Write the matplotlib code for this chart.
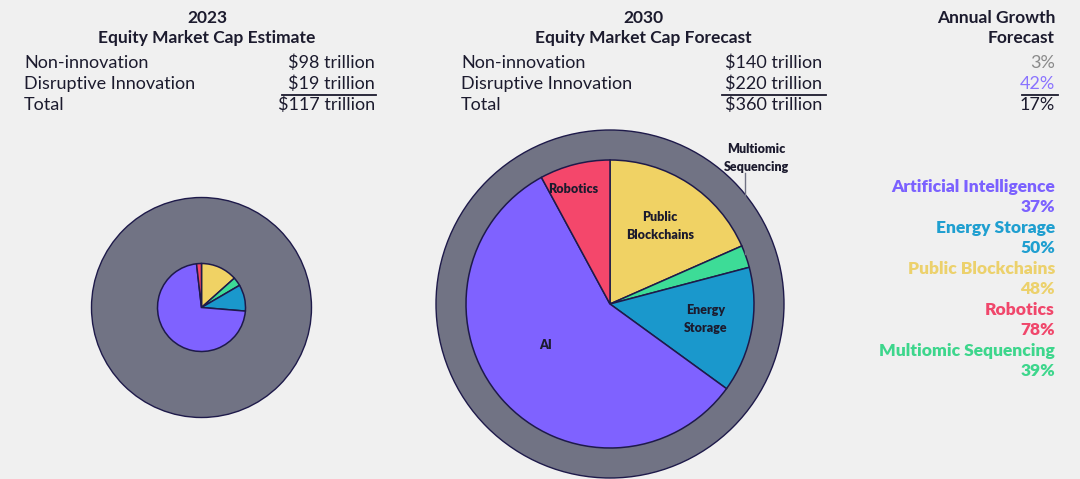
import matplotlib.pyplot as plt
from matplotlib.patches import Circle

plt.rcParams['font.family'] = ['Lato', 'DejaVu Sans']

# Veriler
yil_2023 = ['Non-innovation', 'Disruptive Innovation', 'Total']
deger_2023 = ['$98 trillion', '$19 trillion', '$117 trillion']
deger_2030 = ['$140 trillion', '$220 trillion', '$360 trillion']
buyume = ['3%', '42%', '17%']

# pasta dilimleri (saat yönünde, tepeden başlayarak), pay yüzdesi
dilimler = ['Public Blockchains', 'Multiomic Sequencing', 'Energy Storage', 'AI', 'Robotics']
pay_2023 = [13.4, 3.2, 9.7, 71.9, 1.8]
pay_2030 = [18.4, 2.5, 14.1, 57.1, 7.9]

lejant = ['Artificial Intelligence', 'Energy Storage', 'Public Blockchains', 'Robotics', 'Multiomic Sequencing']
lejant_buyume = ['37%', '50%', '48%', '78%', '39%']

renkler = {'AI': '#7f62ff', 'Energy Storage': '#1a98cc', 'Public Blockchains': '#f0d264',
           'Robotics': '#f4476b', 'Multiomic Sequencing': '#3ddc97'}
lejant_renk = ['#7b61ff', '#1f9fd0', '#ecd16c', '#f0476b', '#3dd68c']

ARKA = '#f0f0f0'
YAZI = '#1c1b2e'
GRI = '#717384'
KENAR = '#1e1a4a'

W, H = 1080, 479
fig = plt.figure(figsize=(W / 100, H / 100), dpi=100, facecolor=ARKA)
ax = fig.add_axes([0, 0, 1, 1])
ax.set_facecolor(ARKA)


def y(py):
    return H - py


# Pastalar
def pasta(merkez, r_dis, r_ic, paylar):
    ax.add_patch(Circle(merkez, r_dis, facecolor=GRI, edgecolor=KENAR, linewidth=1.0, zorder=1))
    ax.pie(paylar, colors=[renkler[d] for d in dilimler], startangle=90, counterclock=False,
           center=merkez, radius=r_ic, frame=True,
           wedgeprops=dict(edgecolor=KENAR, linewidth=1.1, zorder=2))


pasta((201.5, y(307.5)), 110, 44, pay_2023)
pasta((610, y(304)), 174, 144, pay_2030)

# Dilim etiketleri
etiket = dict(fontsize=9, fontweight='heavy', color=YAZI, ha='center', va='center', zorder=5)
ax.text(573, y(189), 'Robotics', **etiket)
ax.text(660, y(226), 'Public\nBlockchains', linespacing=1.6, **etiket)
ax.text(706, y(319), 'Energy\nStorage', linespacing=1.6, **etiket)
ax.text(546, y(345), 'AI', **etiket)
ax.text(756, y(158), 'Multiomic\nSequencing', linespacing=1.6, **etiket)
ax.plot([745, 745], [y(173), y(254)], color=GRI, linewidth=1, zorder=5)

# Başlıklar
baslik = dict(fontsize=12.5, fontweight='bold', color=YAZI, va='center')
ax.text(207, y(18), '2023', ha='center', **baslik)
ax.text(207, y(38), 'Equity Market Cap Estimate', ha='center', **baslik)
ax.text(643, y(18), '2030', ha='center', **baslik)
ax.text(643, y(38), 'Equity Market Cap Forecast', ha='center', **baslik)
ax.text(1055, y(18), 'Annual Growth', ha='right', **baslik)
ax.text(1055, y(38), 'Forecast', ha='right', **baslik)

# Tablolar
satir_y = [63, 84, 105]
satir = dict(fontsize=13, color=YAZI, va='center')
for i in range(3):
    ax.text(24, y(satir_y[i]), yil_2023[i], ha='left', **satir)
    ax.text(375, y(satir_y[i]), deger_2023[i], ha='right', **satir)
    ax.text(461, y(satir_y[i]), yil_2023[i], ha='left', **satir)
    ax.text(822, y(satir_y[i]), deger_2030[i], ha='right', **satir)
buyume_renk = ['#8a8a8a', '#8a73ff', YAZI]
for i in range(3):
    ax.text(1055, y(satir_y[i]), buyume[i], ha='right', fontsize=13, color=buyume_renk[i], va='center')

for x0, x1 in [(282, 376), (722, 826), (1022, 1058)]:
    ax.plot([x0, x1], [y(95), y(95)], color=YAZI, linewidth=1.3)

# Lejant
for i in range(5):
    ax.text(1055, y(187 + 41 * i), lejant[i], ha='right', va='center', fontsize=12.5,
            fontweight='heavy', color=lejant_renk[i])
    ax.text(1055, y(207 + 41 * i), lejant_buyume[i], ha='right', va='center', fontsize=12.5,
            fontweight='heavy', color=lejant_renk[i])

ax.set_xlim(0, W)
ax.set_ylim(0, H)
ax.set_aspect('equal')
ax.axis('off')

fig.savefig('out.png', dpi=100, facecolor=ARKA)
